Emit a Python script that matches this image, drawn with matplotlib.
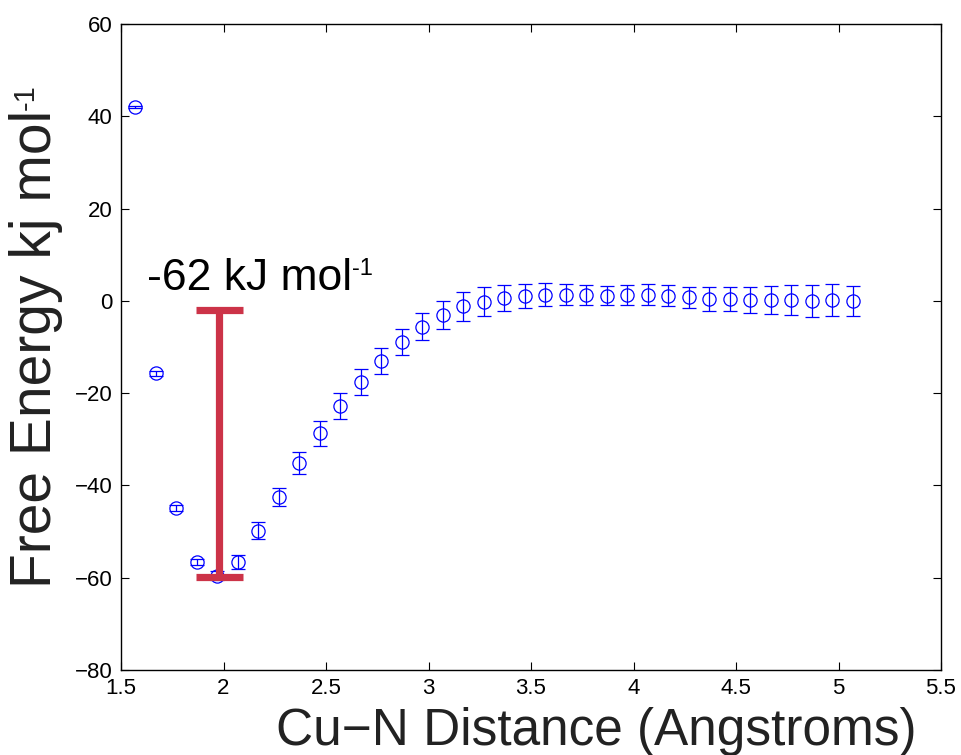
import matplotlib
matplotlib.use("Agg")
import matplotlib.pyplot as plt

plt.rcParams['font.family'] = ['Liberation Sans', 'DejaVu Sans']

# Cu-N separation (Angstrom) and free energy profile (kJ/mol) with uncertainty
distance = [1.57, 1.67, 1.77, 1.87, 1.97, 2.07, 2.17, 2.27, 2.37, 2.47, 2.57, 2.67,
            2.77, 2.87, 2.97, 3.07, 3.17, 3.27, 3.37, 3.47, 3.57, 3.67, 3.77, 3.87,
            3.97, 4.07, 4.17, 4.27, 4.37, 4.47, 4.57, 4.67, 4.77, 4.87, 4.97, 5.07]
energy = [42.1, -15.7, -44.9, -56.6, -59.6, -56.6, -49.8, -42.5, -35.2, -28.7,
          -22.8, -17.6, -13.0, -8.9, -5.6, -3.0, -1.2, -0.2, 0.6, 1.15, 1.3, 1.3,
          1.3, 1.15, 1.3, 1.3, 1.15, 0.8, 0.4, 0.4, 0.2, 0.15, 0.15, -0.05, 0.15, 0.0]
error = [0.2, 0.6, 0.6, 0.7, 1.0, 1.6, 1.9, 2.0, 2.4, 2.7, 2.9, 2.8, 2.8, 2.9,
         2.9, 3.0, 3.2, 3.1, 2.8, 2.6, 2.5, 2.3, 2.1, 2.1, 2.1, 2.3, 2.3, 2.3,
         2.5, 2.7, 2.9, 3.0, 3.2, 3.4, 3.4, 3.2]

# binding-energy marker: well depth bracket
well_x = 1.98
well_halfwidth = 0.114
well_top = -1.9
well_bottom = -59.8
well_label = '-62 kJ mol'
unit_exponent = '-1'

x_ticks = [1.5, 2, 2.5, 3, 3.5, 4, 4.5, 5, 5.5]
x_ticklabels = ['1.5', '2', '2.5', '3', '3.5', '4', '4.5', '5', '5.5']
y_ticks = [60, 40, 20, 0, -20, -40, -60, -80]

fig = plt.figure(figsize=(9.61, 7.55), dpi=100)
ax = fig.add_axes([121 / 961, 1 - 670 / 755, 820 / 961, 646 / 755])

ax.errorbar(distance, energy, yerr=error, fmt='o', color='#0000ff',
            markerfacecolor='none', markersize=9.5, markeredgewidth=0.9,
            elinewidth=0.9, capsize=4.8, capthick=0.9)

red = '#cc3348'
ax.plot([well_x, well_x], [well_top, well_bottom], color=red, lw=5.2,
        solid_capstyle='butt', zorder=5)
for yv in (well_top, well_bottom):
    ax.plot([well_x - well_halfwidth, well_x + well_halfwidth], [yv, yv],
            color=red, lw=5.2, solid_capstyle='butt', zorder=5)

note = ax.text(1.627, 2.4, well_label, fontsize=32, va='baseline', ha='left',
               color='black')
ax.annotate(unit_exponent, xy=(1.0, 1.0), xycoords=note, fontsize=17,
            ha='left', va='top', color='black')

ax.set_xlim(1.5, 5.5)
ax.set_ylim(-80, 60)
ax.set_xticks(x_ticks)
ax.set_xticklabels(x_ticklabels)
ax.set_yticks(y_ticks)
ax.tick_params(direction='in', length=6, width=0.8, top=True, right=True,
               labelsize=16, pad=6, colors='black')
for sp in ax.spines.values():
    sp.set_linewidth(1.0)

ax.set_xlabel('Cu\u2212N Distance (Angstroms)', fontsize=37, color='#222222')
ax.xaxis.set_label_coords(0.58, -0.116)
ax.xaxis.label.set_va('baseline')

ylab = ax.set_ylabel('Free Energy kj mol', fontsize=41, color='#222222')
ax.yaxis.set_label_coords(-0.104, 0.497)
ax.yaxis.label.set_va('center')
ax.annotate(unit_exponent, xy=(0.06, 1.0), xycoords=ylab, fontsize=21,
            rotation=90, ha='left', va='bottom', color='#222222')

fig.savefig('out.png', dpi=100)
